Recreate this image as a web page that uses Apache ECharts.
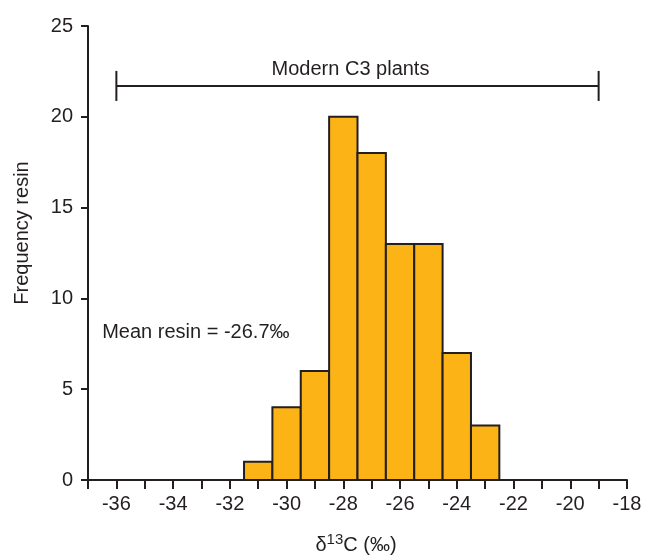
<!DOCTYPE html>
<html><head><meta charset="utf-8">
<script src="https://cdn.jsdelivr.net/npm/echarts@6/dist/echarts.min.js"></script>
<style>html,body{margin:0;padding:0;background:#fff}#c{width:646px;height:558px}</style>
</head><body><div id="c"></div>
<script>
// Histogram bins (bin start, bin end) and frequencies
const binStarts = [-31.5, -30.5, -29.5, -28.5, -27.5, -26.5, -25.5, -24.5, -23.5];
const binEnds   = [-30.5, -29.5, -28.5, -27.5, -26.5, -25.5, -24.5, -23.5, -22.5];
const freqs     = [1, 4, 6, 20, 18, 13, 13, 7, 3];
// Modern C3 plants range
const c3Range = [-36, -19];
const c3Level = 21.7;
const c3Label = 'Modern C3 plants';
const meanLabel = 'Mean resin = -26.7‰';
const meanPos = [-36.5, 8.1];
const xTicks = [-36, -34, -32, -30, -28, -26, -24, -22, -20, -18];
const yTicks = [0, 5, 10, 15, 20, 25];

const chart = echarts.init(document.getElementById('c'));
const font = 'Liberation Sans, Arial, sans-serif';
const barData = binStarts.map((s, i) => [s, binEnds[i], freqs[i]]);

chart.setOption({
  animation: false,
  grid: {left: 88, right: 19, top: 26, bottom: 78, containLabel: false},
  xAxis: {
    type: 'value', min: -37, max: -18, interval: 1,
    axisLine: {show: true, onZero: false, lineStyle: {color: '#231f20', width: 2}},
    axisTick: {show: true, length: 9, lineStyle: {color: '#231f20', width: 2}},
    splitLine: {show: false},
    axisLabel: {
      color: '#231f20', fontFamily: font, fontSize: 20, margin: 14,
      formatter: v => xTicks.includes(v) ? String(v) : ''
    }
  },
  yAxis: {
    type: 'value', min: 0, max: 25, interval: 5,
    axisLine: {show: true, lineStyle: {color: '#231f20', width: 2}},
    axisTick: {show: true, length: 7, lineStyle: {color: '#231f20', width: 2}},
    splitLine: {show: false},
    axisLabel: {color: '#231f20', fontFamily: font, fontSize: 20, margin: 15,
      formatter: v => yTicks.includes(v) ? String(v) : ''}
  },
  series: [
    {
      type: 'custom',
      data: barData,
      renderItem: (params, api) => {
        const p0 = api.coord([api.value(0), api.value(2)]);
        const p1 = api.coord([api.value(1), 0]);
        return {
          type: 'rect',
          shape: {x: p0[0], y: p0[1], width: p1[0] - p0[0], height: p1[1] - p0[1]},
          style: {fill: '#fcb316', stroke: '#231f20', lineWidth: 2}
        };
      },
      z: 2
    },
    {
      type: 'custom',
      data: [[c3Range[0], c3Range[1], c3Level]],
      renderItem: (params, api) => {
        const a = api.coord([api.value(0), api.value(2)]);
        const b = api.coord([api.value(1), api.value(2)]);
        const st = {stroke: '#231f20', lineWidth: 2};
        return {
          type: 'group',
          children: [
            {type: 'line', shape: {x1: a[0], y1: a[1], x2: b[0], y2: b[1]}, style: st},
            {type: 'line', shape: {x1: a[0], y1: a[1] - 15, x2: a[0], y2: a[1] + 15}, style: st},
            {type: 'line', shape: {x1: b[0], y1: b[1] - 15, x2: b[0], y2: b[1] + 15}, style: st},
            {type: 'text', x: (a[0] + b[0]) / 2 - 7, y: a[1] - 6,
              style: {text: c3Label, fill: '#231f20', font: '20px ' + font, align: 'center', verticalAlign: 'bottom'}}
          ]
        };
      }
    },
    {
      type: 'custom',
      data: [meanPos],
      renderItem: (params, api) => {
        const p = api.coord([api.value(0), api.value(1)]);
        return {type: 'text', x: p[0], y: p[1],
          style: {text: meanLabel, fill: '#231f20', font: '20px ' + font, align: 'left', verticalAlign: 'middle'}};
      }
    }
  ],
  graphic: [
    {type: 'text', x: 356, y: 545,
      style: {rich: {a: {fontSize: 20, fontFamily: font, fill: '#231f20'}, s: {fontSize: 15, fontFamily: font, fill: '#231f20', verticalAlign: 'top', padding: [0,0,10,0]}},
        text: '{a|δ}{s|13}{a|C (‰)}', align: 'center', verticalAlign: 'middle', fill: '#231f20'}},
    {type: 'text', x: 22, y: 233, rotation: Math.PI / 2,
      style: {text: 'Frequency resin', font: '20px ' + font, fill: '#231f20', align: 'center', verticalAlign: 'middle'}}
  ]
});
</script></body></html>
